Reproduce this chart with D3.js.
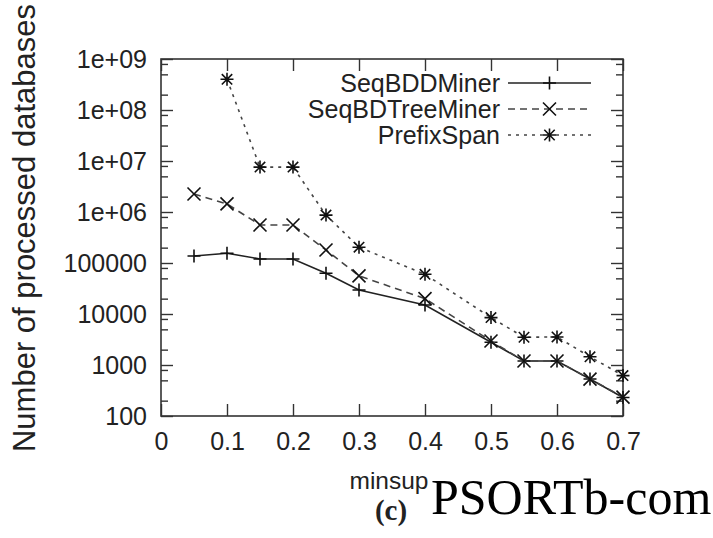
<!DOCTYPE html>
<html>
<head>
<meta charset="utf-8">
<script src="https://cdn.jsdelivr.net/npm/d3@7"></script>
<style>
  html, body { margin: 0; padding: 0; background: #fff; }
  svg { display: block; }
  text { font-family: "Liberation Sans", Arial, Helvetica, sans-serif; fill: #222; }
</style>
</head>
<body>
<svg id="chart" width="713" height="538"></svg>
<script>
// Minimum support thresholds on the x axis
const minsup = [0.05, 0.1, 0.15, 0.2, 0.25, 0.3, 0.4, 0.5, 0.55, 0.6, 0.65, 0.7];

// Number of processed databases per algorithm (null = not run)
const seqBDDMiner    = [137000, 155000, 120000, 120000, 63000, 29500, 15000, 2800, 1200, 1200, 530, 230];
const seqBDTreeMiner = [2250000, 1440000, 556000, 556000, 180000, 56000, 20000, 2950, 1200, 1200, 530, 235];
const prefixSpan     = [null, 4.0e8, 7.6e6, 7.6e6, 870000, 204000, 60000, 8500, 3500, 3550, 1450, 620];

const seriesNames = ["SeqBDDMiner", "SeqBDTreeMiner", "PrefixSpan"];

// Axis ticks
const xTicks = [0, 0.1, 0.2, 0.3, 0.4, 0.5, 0.6, 0.7];
const xTickLabels = ["0", "0.1", "0.2", "0.3", "0.4", "0.5", "0.6", "0.7"];
const yTicks = [1e2, 1e3, 1e4, 1e5, 1e6, 1e7, 1e8, 1e9];
const yTickLabels = ["100", "1000", "10000", "100000", "1e+06", "1e+07", "1e+08", "1e+09"];
const yMinorSteps = [2, 5, 8];

const svg = d3.select("#chart");
const plotLeft = 161, plotRight = 623, plotTop = 59, plotBottom = 416;

const x = d3.scaleLinear().domain([0, 0.7]).range([plotLeft, plotRight]);
const y = d3.scaleLog().domain([100, 1e9]).range([plotBottom, plotTop]);

const yMinor = [];
yTicks.slice(0, -1).forEach(t => yMinorSteps.forEach(m => yMinor.push(t * m)));

const MAJOR = 12, MINOR = 7;
const axisColor = "#333";

function styleAxis(g) {
  g.select(".domain").remove();
  g.selectAll(".tick line").attr("stroke", axisColor).attr("stroke-width", 1.4);
}

// Bottom axis with labels
svg.append("g")
  .attr("transform", `translate(0,${plotBottom})`)
  .call(d3.axisBottom(x).tickValues(xTicks).tickFormat((d, i) => xTickLabels[i])
        .tickSizeInner(-MAJOR).tickSizeOuter(0).tickPadding(16))
  .call(styleAxis)
  .call(g => g.selectAll("text").attr("font-size", 25).attr("font-family", null).attr("fill", "#222"));

// Top mirrored ticks
svg.append("g")
  .attr("transform", `translate(0,${plotTop})`)
  .call(d3.axisTop(x).tickValues(xTicks).tickFormat("").tickSizeInner(-MAJOR).tickSizeOuter(0))
  .call(styleAxis);

// Left axis with labels
svg.append("g")
  .attr("transform", `translate(${plotLeft},0)`)
  .call(d3.axisLeft(y).tickValues(yTicks).tickFormat((d, i) => yTickLabels[i])
        .tickSizeInner(-MAJOR).tickSizeOuter(0).tickPadding(14))
  .call(styleAxis)
  .call(g => g.selectAll("text").attr("font-size", 25).attr("font-family", null).attr("fill", "#222"));

svg.append("g")
  .attr("transform", `translate(${plotLeft},0)`)
  .call(d3.axisLeft(y).tickValues(yMinor).tickFormat("").tickSizeInner(-MINOR).tickSizeOuter(0))
  .call(styleAxis);

// Right mirrored ticks
svg.append("g")
  .attr("transform", `translate(${plotRight},0)`)
  .call(d3.axisRight(y).tickValues(yTicks).tickFormat("").tickSizeInner(-MAJOR).tickSizeOuter(0))
  .call(styleAxis);

svg.append("g")
  .attr("transform", `translate(${plotRight},0)`)
  .call(d3.axisRight(y).tickValues(yMinor).tickFormat("").tickSizeInner(-MINOR).tickSizeOuter(0))
  .call(styleAxis);

// Plot frame
svg.append("rect")
  .attr("x", plotLeft).attr("y", plotTop)
  .attr("width", plotRight - plotLeft).attr("height", plotBottom - plotTop)
  .attr("fill", "none").attr("stroke", axisColor).attr("stroke-width", 1.6);

// Marker shapes
const S = 6.5;
const markerPaths = {
  plus:  `M${-S},0H${S}M0,${-S}V${S}`,
  cross: `M${-S},${-S}L${S},${S}M${-S},${S}L${S},${-S}`,
  star:  `M${-S},0H${S}M0,${-S}V${S}M${-S*0.8},${-S*0.8}L${S*0.8},${S*0.8}M${-S*0.8},${S*0.8}L${S*0.8},${-S*0.8}`
};

const series = [
  { name: seriesNames[0], values: seqBDDMiner,    dash: null,  marker: "plus",  color: "#222" },
  { name: seriesNames[1], values: seqBDTreeMiner, dash: "7,5", marker: "cross", color: "#444" },
  { name: seriesNames[2], values: prefixSpan,     dash: "3,5", marker: "star",  color: "#444" }
];

const line = d3.line()
  .defined(d => d.v != null)
  .x(d => x(d.m))
  .y(d => y(d.v));

series.forEach(s => {
  const pts = minsup.map((m, i) => ({ m, v: s.values[i] }));
  svg.append("path")
    .datum(pts)
    .attr("d", line)
    .attr("fill", "none")
    .attr("stroke", s.color)
    .attr("stroke-width", 1.6)
    .attr("stroke-dasharray", s.dash);
  svg.append("g").selectAll("path")
    .data(pts.filter(d => d.v != null))
    .join("path")
    .attr("transform", d => `translate(${x(d.m)},${y(d.v)})`)
    .attr("d", markerPaths[s.marker])
    .attr("fill", "none")
    .attr("stroke", "#111")
    .attr("stroke-width", 1.6);
});

// Legend
const legendTextRight = 500, sampleX0 = 508, sampleX1 = 591;
const legendRows = [83, 109, 135];
series.forEach((s, i) => {
  const yy = legendRows[i];
  svg.append("text")
    .attr("x", legendTextRight).attr("y", yy)
    .attr("dy", "0.36em")
    .attr("text-anchor", "end")
    .attr("font-size", 25)
    .text(s.name);
  svg.append("line")
    .attr("x1", sampleX0).attr("x2", sampleX1)
    .attr("y1", yy).attr("y2", yy)
    .attr("stroke", s.color).attr("stroke-width", 1.6)
    .attr("stroke-dasharray", s.dash);
  svg.append("path")
    .attr("transform", `translate(${(sampleX0 + sampleX1) / 2},${yy})`)
    .attr("d", markerPaths[s.marker])
    .attr("fill", "none").attr("stroke", "#111").attr("stroke-width", 1.6);
});

// Axis titles
svg.append("text")
  .attr("transform", `translate(35,228) rotate(-90)`)
  .attr("text-anchor", "middle")
  .attr("font-size", 31)
  .text("Number of processed databases");

svg.append("text")
  .attr("x", 389).attr("y", 489)
  .attr("text-anchor", "middle")
  .attr("font-size", 24.5)
  .text("minsup");

svg.append("text")
  .attr("x", 391).attr("y", 520)
  .attr("text-anchor", "middle")
  .attr("font-size", 29)
  .attr("font-weight", "bold")
  .style("font-family", "'Liberation Serif', 'Times New Roman', serif")
  .text("(c)");

svg.append("text")
  .attr("x", 431).attr("y", 514)
  .attr("font-size", 50)
  .style("font-family", "'Liberation Serif', 'Times New Roman', serif")
  .style("fill", "#000")
  .text("PSORTb-com");
</script>
</body>
</html>
